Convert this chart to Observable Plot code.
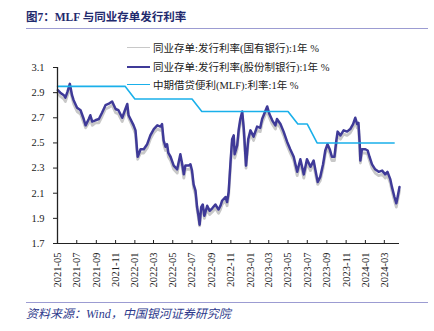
<!DOCTYPE html>
<html><head><meta charset="utf-8">
<script src="https://cdn.jsdelivr.net/npm/d3@7"></script>
<script src="https://cdn.jsdelivr.net/npm/@observablehq/plot@0.6"></script>
<style>
body{margin:0;background:#fff;}
#wrap{position:relative;width:434px;height:331px;overflow:hidden;font-family:"Liberation Serif","Noto Sans CJK SC",serif;}
#chart{position:absolute;left:0;top:0;}
.title{position:absolute;left:26px;top:8px;font-size:11.5px;font-weight:bold;color:#1f2a6e;white-space:nowrap;}
.hr{position:absolute;left:26px;width:402px;height:0;border-top:1.5px solid #9c9cd2;}
.src{position:absolute;left:26px;top:304px;font-size:12px;font-style:italic;color:#2e3a8c;white-space:nowrap;}
.leg{position:absolute;left:127px;height:14px;white-space:nowrap;font-size:10.5px;color:#222;}
.leg span.l{display:inline-block;width:23px;vertical-align:middle;margin-right:3px;}
.leg span.t{vertical-align:middle;}
</style></head><body>
<div id="wrap">
<div id="chart"></div>
<div class="title">图7：MLF 与同业存单发行利率</div>
<div class="hr" style="top:28px"></div>
<div id="legend"></div>
<div class="hr" style="top:302px"></div>
<div class="src">资料来源：Wind，中国银河证券研究院</div>
</div>
<script>
const seriesNames = ["同业存单:发行利率(国有银行):1年 %","同业存单:发行利率(股份制银行):1年 %","中期借贷便利(MLF):利率:1年 %"];
const seriesColors = ["#c8c8c8","#3f3a98","#1ab0ea"];
const seriesWidths = [1.6,2.5,1.6];

const cdDates = ["2021-05-02","2021-05-10","2021-05-21","2021-05-26","2021-06-02","2021-06-09","2021-06-16","2021-06-21","2021-07-02","2021-07-13",
"2021-07-23","2021-07-29","2021-08-08","2021-08-13","2021-08-19","2021-08-29","2021-09-09","2021-09-19","2021-09-30","2021-10-09",
"2021-10-21","2021-11-01","2021-11-10","2021-11-22","2021-12-02","2021-12-08","2021-12-12","2021-12-28","2022-01-03","2022-01-08",
"2022-01-10","2022-01-19","2022-01-29","2022-02-09","2022-02-19","2022-03-02","2022-03-13","2022-03-23","2022-03-28","2022-04-02",
"2022-04-08","2022-04-13","2022-04-17","2022-04-24","2022-05-04","2022-05-15","2022-05-25","2022-05-31","2022-06-05","2022-06-10",
"2022-06-21","2022-06-26","2022-07-01","2022-07-06","2022-07-12","2022-07-17","2022-07-22","2022-07-25","2022-07-30","2022-08-04",
"2022-08-09","2022-08-18","2022-08-26","2022-09-03","2022-09-13","2022-09-23","2022-09-29","2022-10-04","2022-10-15","2022-10-20",
"2022-10-25","2022-10-31","2022-11-05","2022-11-10","2022-11-13","2022-11-21","2022-11-26","2022-12-01","2022-12-07","2022-12-12",
"2022-12-19","2022-12-26","2023-01-02","2023-01-12","2023-01-23","2023-02-02","2023-02-08","2023-02-16","2023-02-24","2023-03-03",
"2023-03-12","2023-03-22","2023-03-27","2023-04-07","2023-04-17","2023-04-28","2023-05-08","2023-05-19","2023-05-30","2023-06-09",
"2023-06-20","2023-06-30","2023-07-11","2023-07-21","2023-07-27","2023-08-03","2023-08-11","2023-08-20","2023-08-27","2023-09-03",
"2023-09-10","2023-09-17","2023-09-25","2023-10-01","2023-10-05","2023-10-14","2023-10-24","2023-11-04","2023-11-14","2023-11-23",
"2023-11-30","2023-12-06","2023-12-10","2023-12-14","2023-12-16","2023-12-21","2024-01-01","2024-01-08","2024-01-14","2024-01-22",
"2024-02-01","2024-02-12","2024-02-23","2024-03-04","2024-03-11","2024-03-20","2024-03-25","2024-04-02","2024-04-08","2024-04-12",
"2024-04-18"];

const jointStockRate = [2.92,2.90,2.88,2.86,2.91,2.97,2.88,2.84,2.78,2.76,
2.69,2.64,2.69,2.72,2.67,2.68,2.69,2.74,2.80,2.81,
2.83,2.77,2.76,2.70,2.77,2.81,2.72,2.64,2.60,2.44,
2.39,2.45,2.45,2.49,2.56,2.61,2.64,2.63,2.65,2.52,
2.47,2.49,2.42,2.39,2.32,2.29,2.41,2.33,2.25,2.32,
2.32,2.33,2.28,2.17,2.12,1.99,1.91,1.85,1.99,2.01,
1.92,2.00,1.96,1.98,2.01,1.97,2.00,2.04,2.07,2.03,
2.11,2.35,2.53,2.56,2.41,2.48,2.61,2.69,2.75,2.61,
2.32,2.53,2.60,2.55,2.63,2.62,2.69,2.74,2.79,2.73,
2.68,2.64,2.69,2.65,2.59,2.51,2.45,2.39,2.27,2.37,
2.25,2.37,2.31,2.36,2.28,2.19,2.23,2.33,2.44,2.49,
2.45,2.39,2.39,2.52,2.59,2.56,2.60,2.59,2.61,2.65,
2.70,2.65,2.66,2.49,2.36,2.45,2.45,2.44,2.39,2.33,
2.29,2.27,2.28,2.25,2.27,2.21,2.15,2.07,2.02,2.07,
2.15];

const stateOwnedRate = [2.90,2.87,2.85,2.83,2.88,2.94,2.86,2.81,2.75,2.73,
2.66,2.62,2.66,2.69,2.64,2.66,2.66,2.71,2.77,2.78,
2.80,2.74,2.73,2.67,2.74,2.78,2.70,2.61,2.57,2.42,
2.37,2.42,2.42,2.46,2.53,2.58,2.61,2.60,2.62,2.49,
2.44,2.46,2.39,2.36,2.29,2.26,2.38,2.30,2.22,2.29,
2.29,2.30,2.25,2.14,2.09,1.97,1.89,1.84,1.96,1.98,
1.90,1.97,1.93,1.95,1.98,1.94,1.97,2.01,2.04,2.00,
2.08,2.32,2.50,2.53,2.38,2.45,2.58,2.66,2.72,2.58,
2.30,2.50,2.57,2.52,2.60,2.59,2.66,2.71,2.76,2.70,
2.65,2.61,2.66,2.62,2.56,2.48,2.42,2.36,2.24,2.34,
2.22,2.34,2.28,2.33,2.25,2.17,2.20,2.30,2.41,2.46,
2.42,2.36,2.36,2.49,2.56,2.53,2.57,2.56,2.58,2.62,
2.67,2.62,2.63,2.46,2.34,2.42,2.42,2.41,2.36,2.30,
2.26,2.24,2.25,2.22,2.24,2.18,2.12,2.04,1.99,2.04,
2.12];

const mlfMonths = ["2021-05","2021-06","2021-07","2021-08","2021-09","2021-10","2021-11","2021-12",
"2022-01","2022-02","2022-03","2022-04","2022-05","2022-06","2022-07","2022-08","2022-09","2022-10","2022-11","2022-12",
"2023-01","2023-02","2023-03","2023-04","2023-05","2023-06","2023-07","2023-08","2023-09","2023-10","2023-11","2023-12",
"2024-01","2024-02","2024-03","2024-04"];
const mlfRate = [2.95,2.95,2.95,2.95,2.95,2.95,2.95,2.95,
2.85,2.85,2.85,2.85,2.85,2.85,2.85,2.75,2.75,2.75,2.75,2.75,
2.75,2.75,2.75,2.75,2.75,2.65,2.65,2.50,2.50,2.50,2.50,2.50,
2.50,2.50,2.50,2.50];

const xTickLabels = ["2021-05","2021-07","2021-09","2021-11","2022-01","2022-03","2022-05","2022-07","2022-09","2022-11",
"2023-01","2023-03","2023-05","2023-07","2023-09","2023-11","2024-01","2024-03"];
const yTicks = [1.7,1.9,2.1,2.3,2.5,2.7,2.9,3.1];

const pd = d3.utcParse("%Y-%m-%d");
const pm = d3.utcParse("%Y-%m");
const cd = cdDates.map((d,i)=>({date:pd(d), joint:jointStockRate[i], state:stateOwnedRate[i]}));
const mlf = mlfMonths.map((m,i)=>({date:pm(m), rate:mlfRate[i]}));
const xTicks = xTickLabels.map(pm);
const x0 = pd("2021-05-01"), x1 = pd("2024-04-18");

const chart = Plot.plot({
  width:434, height:331, marginLeft:57, marginRight:35, marginTop:67, marginBottom:88,
  style:{fontFamily:'"Liberation Serif","Noto Sans CJK SC",serif', fontSize:"10.5px", color:"#222", background:"transparent"},
  x:{type:"utc", domain:[x0,x1]},
  y:{domain:[1.7,3.1]},
  marks:[
    Plot.lineY(cd,{x:"date", y:"state", stroke:seriesColors[0], strokeWidth:2.8}),
    Plot.lineY(cd,{x:"date", y:"joint", stroke:seriesColors[1], strokeWidth:2.5}),
    Plot.lineY(mlf,{x:"date", y:"rate", stroke:seriesColors[2], strokeWidth:1.6}),
    Plot.ruleY([1.7],{stroke:"#222", strokeWidth:1.2}),
    Plot.ruleX([x0],{stroke:"#222", strokeWidth:1.3}),
    Plot.axisY({ticks:yTicks, tickFormat:d3.format(".1f"), tickSize:4, tickPadding:9, label:null}),
    Plot.axisX({ticks:xTicks, tickFormat:d3.utcFormat("%Y-%m"), tickSize:0, tickPadding:9, tickRotate:-90, label:null}),
    Plot.tickX(xTicks,{x:d=>d, insetTop:173, stroke:"#222"})
  ]
});
document.getElementById("chart").appendChild(chart);

const legTops = [40,59,77];
const leg = document.getElementById("legend");
seriesNames.forEach((n,i)=>{
  const d = document.createElement("div");
  d.className="leg"; d.style.top = legTops[i]+"px";
  d.innerHTML = `<span class="l" style="border-top:${seriesWidths[i]}px solid ${seriesColors[i]}"></span><span class="t">${n}</span>`;
  leg.appendChild(d);
});
</script>
</body></html>
